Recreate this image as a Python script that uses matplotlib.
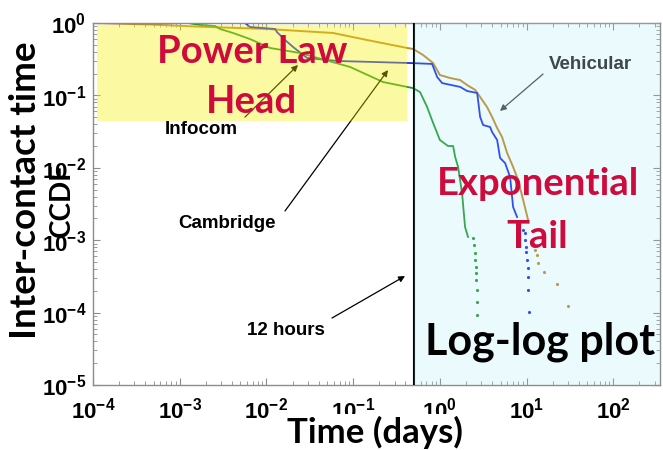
import matplotlib
matplotlib.use("Agg")
from matplotlib import pyplot as plt

# CCDF of inter-contact times (days) for the three traces
veh_t = [1e-4, 4.54e-4, 1.71e-3, 1.02e-2, 5.86e-2, 0.145, 0.419, 0.491, 0.640, 0.835,
         1.00, 1.31, 1.71, 2.06, 2.55, 2.91, 3.50, 4.00, 4.57, 5.21, 5.96, 6.98, 7.98, 9.12, 10.4]
veh_c = [1.0, 0.953, 0.889, 0.826, 0.728, 0.582, 0.452, 0.438, 0.361, 0.280,
         0.191, 0.174, 0.163, 0.139, 0.119, 0.095, 0.069, 0.0503, 0.0355, 0.0266, 0.0160, 0.0103,
         0.00678, 0.00359, 0.0019]
veh_tail_t = [12.5, 13.2, 13.6, 15.9, 22.5, 30.1]
veh_tail_c = [7.3e-4, 6.3e-4, 4.8e-4, 3.6e-4, 2.5e-4, 1.23e-4]

cam_t = [1e-4, 5.66e-3, 6.47e-3, 1.26e-2, 1.32e-2, 1.64e-2, 2.03e-2, 2.94e-2, 6.52e-2, 0.453,
         0.813, 0.929, 1.06, 1.71, 2.06, 2.69, 2.91, 3.15, 3.79, 4.00, 4.57, 4.94, 5.65, 6.45,
         6.98, 7.76]
cam_c = [1.0, 1.0, 0.880, 0.826, 0.751, 0.582, 0.466, 0.329, 0.299, 0.280,
         0.272, 0.180, 0.148, 0.131, 0.115, 0.108, 0.0503, 0.039, 0.0366, 0.0312, 0.0242, 0.0137,
         0.0116, 0.00746, 0.00288, 0.00209]
cam_tail_t = [9.12, 9.62, 9.62, 9.87, 9.87, 10.1, 10.4, 10.4, 10.4, 10.7]
cam_tail_c = [1.38e-3, 1.26e-3, 1.01e-3, 8.05e-4, 6.87e-4, 5.33e-4, 4.13e-4, 3.10e-4, 2.05e-4, 1.02e-4]

inf_t = [1e-4, 1.25e-3, 1.71e-3, 2.55e-3, 2.92e-3, 4.12e-3, 6.47e-3, 1.10e-2, 2.44e-2, 9.21e-2,
         0.221, 0.419, 0.491, 0.591, 0.712, 0.835, 1.00, 1.24, 1.42, 1.50, 1.62, 1.80, 1.95, 2.11]
inf_c = [1.0, 1.0, 0.938, 0.909, 0.826, 0.728, 0.60, 0.452, 0.385, 0.247,
         0.153, 0.131, 0.126, 0.111, 0.0691, 0.0416, 0.0242, 0.0200, 0.0200, 0.0141, 0.0103,
         0.00449, 0.00152, 0.00111]
inf_tail_t = [2.41, 2.48, 2.55, 2.55, 2.62, 2.62, 2.62, 2.69, 2.69, 2.69]
inf_tail_c = [1.07e-3, 8.6e-4, 6.65e-4, 5.33e-4, 4.27e-4, 3.52e-4, 2.82e-4, 2.05e-4, 1.40e-4, 9.3e-5]

x_ticks = [1e-4, 1e-3, 1e-2, 1e-1, 1e0, 1e1, 1e2]
x_tick_labels = [r'$\mathbf{10^{-4}}$', r'$\mathbf{10^{-3}}$', r'$\mathbf{10^{-2}}$',
                 r'$\mathbf{10^{-1}}$', r'$\mathbf{10^{0}}$', r'$\mathbf{10^{1}}$',
                 r'$\mathbf{10^{2}}$']
y_ticks = [1e-5, 1e-4, 1e-3, 1e-2, 1e-1, 1e0]
y_tick_labels = [r'$\mathbf{10^{-5}}$', r'$\mathbf{10^{-4}}$', r'$\mathbf{10^{-3}}$',
                 r'$\mathbf{10^{-2}}$', r'$\mathbf{10^{-1}}$', r'$\mathbf{10^{0}}$']

twelve_hours = 0.5  # days
head_box = [1.11e-4, 0.42, 0.0443, 0.95]  # t0, t1, c0, c1

plt.rcParams['mathtext.fontset'] = 'custom'
plt.rcParams['mathtext.rm'] = 'Liberation Sans'
plt.rcParams['mathtext.bf'] = 'Liberation Sans:bold'

RED = '#cf0a3c'
GOLD = '#c08a2a'
BLUE = '#1a2ee8'
GREEN = '#1f9a2a'

fig = plt.figure(figsize=(6.63, 4.5), dpi=100)
ax = fig.add_axes([93 / 663, 65 / 450, 567 / 663, 362 / 450])
ax.set_xscale('log')
ax.set_yscale('log')
ax.set_xlim(1e-4, 345)
ax.set_ylim(1e-5, 1)

# curves
ax.plot(veh_t, veh_c, color=GOLD, lw=1.4, zorder=2)
ax.plot(veh_tail_t, veh_tail_c, '.', color=GOLD, ms=2.5, zorder=2)
ax.plot(cam_t, cam_c, color=BLUE, lw=1.3, zorder=2)
ax.plot(cam_tail_t, cam_tail_c, '.', color=BLUE, ms=2.5, zorder=2)
ax.plot(inf_t, inf_c, color=GREEN, lw=1.3, zorder=2)
ax.plot(inf_tail_t, inf_tail_c, '.', color=GREEN, ms=2.5, zorder=2)

ax.axvline(twelve_hours, color='black', lw=1.5, zorder=3)

# arrows (drawn under the shaded regions)
arrow = dict(arrowstyle='-|>', lw=0.9, mutation_scale=9, shrinkA=0, shrinkB=0)
ax.annotate('', xy=(0.3616, 0.884), xytext=(0.268, 0.740), xycoords='axes fraction',
            arrowprops=dict(arrow, color='black'), zorder=3)
ax.annotate('', xy=(0.5203, 0.870), xytext=(0.3386, 0.4807), xycoords='axes fraction',
            arrowprops=dict(arrow, color='black'), zorder=3)
ax.annotate('', xy=(0.5503, 0.301), xytext=(0.4215, 0.185), xycoords='axes fraction',
            arrowprops=dict(arrow, color='black'), zorder=3)
ax.annotate('', xy=(0.7178, 0.757), xytext=(0.7937, 0.859), xycoords='axes fraction',
            arrowprops=dict(arrow, color='#3e4848'), zorder=3)

# shaded regions
ax.fill_between(head_box[:2], head_box[2], head_box[3], color=(0.97, 0.94, 0.0),
                alpha=0.36, lw=0, zorder=4)
ax.axvspan(twelve_hours, 345, color=(0.6, 0.9, 0.95), alpha=0.19, lw=0, zorder=4)

# labels inside the plot
red = dict(family='Lato', weight='bold', color=RED, ha='center', va='baseline',
           transform=ax.transAxes, zorder=6)
ax.text(0.2804, 0.889, 'Power Law', fontsize=27.5, **red)
ax.text(0.2804, 0.751, 'Head', fontsize=27.5, **red)
ax.text(0.785, 0.525, 'Exponential', fontsize=27.5, **red)
ax.text(0.783, 0.378, 'Tail', fontsize=27.5, **red)
ax.text(0.788, 0.0829, 'Log-log plot', fontsize=31, family='Lato', weight='bold',
        color='black', ha='center', va='baseline', transform=ax.transAxes, zorder=6)

small = dict(family='Liberation Sans', weight='bold', fontsize=13.5, ha='center',
             va='baseline', transform=ax.transAxes, zorder=6)
ax.text(0.1905, 0.693, 'Infocom', color='black', **small)
ax.text(0.2363, 0.4337, 'Cambridge', color='black', **small)
ax.text(0.3404, 0.138, '12 hours', color='black', **small)
ax.text(0.878, 0.873, 'Vehicular', color='#3e4848', **small)

# axes styling
for s in ax.spines.values():
    s.set_color('#8c8c8c')
    s.set_linewidth(1.0)
ax.tick_params(which='both', direction='in', top=True, right=True, color='#8c8c8c')
ax.tick_params(which='major', length=5)
ax.tick_params(which='minor', length=3)
ax.tick_params(axis='x', pad=8)
ax.tick_params(axis='y', pad=5)
ax.set_xticks(x_ticks)
ax.set_xticklabels(x_tick_labels, fontsize=16)
ax.set_yticks(y_ticks)
ax.set_yticklabels(y_tick_labels, fontsize=16)

fig.text(25.5 / 663, 1 - 190 / 450, 'Inter-contact time', rotation=90, family='Lato',
         weight='bold', fontsize=26.5, ha='center', va='center')
fig.text(62 / 663, 1 - 200 / 450, 'CCDF', rotation=90, family='Lato',
         weight='bold', fontsize=20, ha='center', va='center')
fig.text(375 / 663, 1 - 443 / 450, 'Time (days)', family='Lato', weight='bold',
         fontsize=25, ha='center', va='baseline',
         bbox=dict(facecolor='white', edgecolor='none', pad=1))

fig.savefig('out.png', dpi=100)
